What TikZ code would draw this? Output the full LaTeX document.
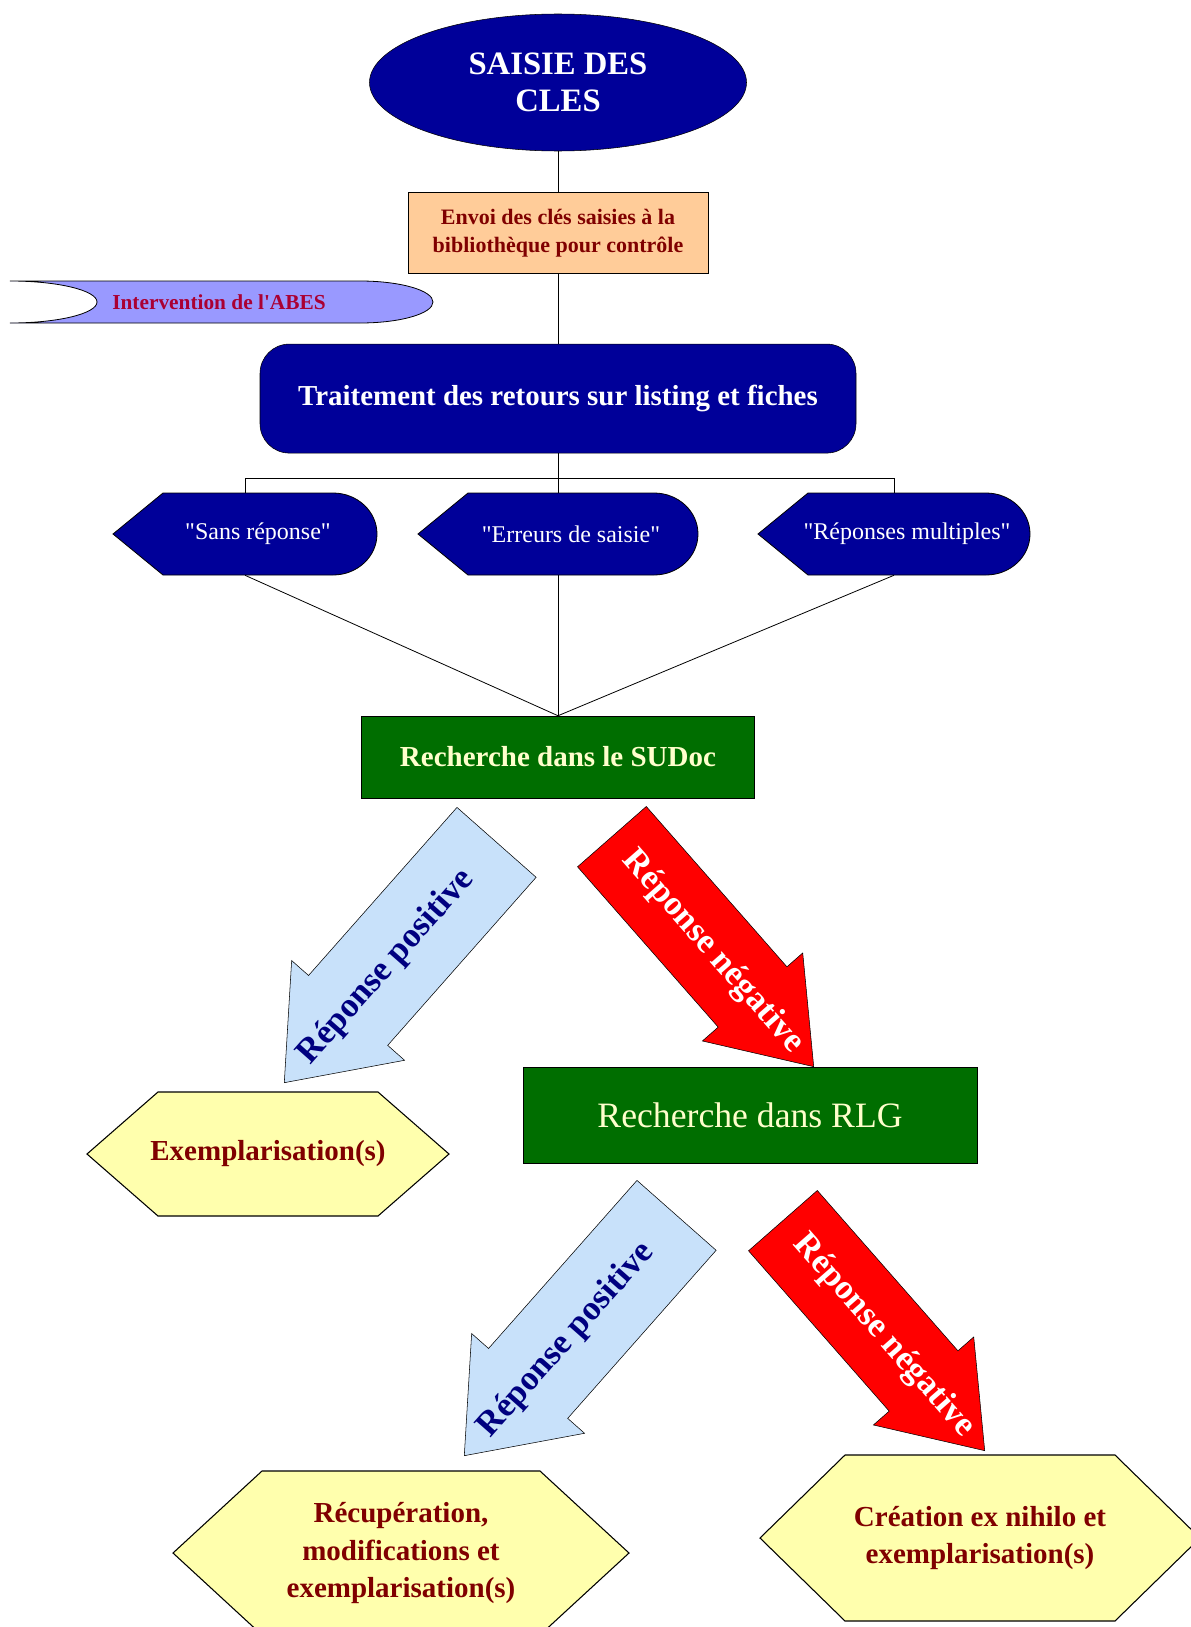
\documentclass[tikz,border=0pt]{standalone}
\usepackage{fontspec}
\setmainfont{Liberation Serif}[Ligatures=TeXOff]
\usetikzlibrary{positioning, shapes.geometric, shapes.arrows}

\definecolor{navyfill}{RGB}{0,0,153}
\definecolor{navytext}{RGB}{0,0,128}
\definecolor{orangefill}{RGB}{255,204,153}
\definecolor{lavender}{RGB}{153,153,255}
\definecolor{greenfill}{RGB}{0,110,0}
\definecolor{creamtext}{RGB}{255,255,204}
\definecolor{hexyellow}{RGB}{255,255,173}
\definecolor{darkredtext}{RGB}{128,0,0}
\definecolor{abestext}{RGB}{170,0,51}
\definecolor{paleblue}{RGB}{200,225,250}

% display shape: pointed on the left, rounded on the right
\newcommand{\displaynode}[4]{% name, centre, half width, text
  \draw[displayfill, shift={#2}] (-#3,0) -- (-#3+50,-41) -- (#3-44,-41)
    .. controls (#3-19.7,-41) and (#3,-22.6) .. (#3,0)
    .. controls (#3,22.6) and (#3-19.7,41) .. (#3-44,41)
    -- (-#3+50,41) -- cycle;
  \node[displaytext, minimum width={#3*1.5pt}] (#1) at #2 {\hspace*{19.5pt}#4};}

% hexagon: name, centre, half width, half height, chamfer, text
\newcommand{\hexnode}[6]{%
  \draw[hexfill, shift={#2}] (-#3,0) -- (-#3+#5,-#4) -- (#3-#5,-#4)
    -- (#3,0) -- (#3-#5,#4) -- (-#3+#5,#4) -- cycle;
  \node[hextext] (#1) at #2 {#6};}

\begin{document}
\begin{tikzpicture}[
    x=0.75pt, y=-0.75pt,
    link/.style={draw, line width=0.6pt},
    oval/.style={ellipse, draw, fill=navyfill, text=white, align=center, inner sep=0pt,
        font=\bfseries\fontsize{24.5}{28}\selectfont, minimum width=282.75pt, minimum height=102.75pt},
    sendbox/.style={rectangle, draw, fill=orangefill, text=darkredtext, align=center,
        font=\bfseries\fontsize{16.5}{21}\selectfont, minimum width=225pt, minimum height=60.75pt},
    bigbox/.style={rectangle, draw, rounded corners=22pt, fill=navyfill, text=white,
        font=\bfseries\fontsize{21.7}{24}\selectfont, minimum width=447pt, minimum height=81.75pt},
    displayfill/.style={draw, fill=navyfill, line width=0.6pt},
    displaytext/.style={rectangle, text=white, inner sep=0pt, minimum height=61.5pt,
        font=\fontsize{18}{18}\selectfont},
    greenbox/.style={rectangle, draw, fill=greenfill, text=creamtext, align=center},
    hexfill/.style={draw, fill=hexyellow, line width=0.8pt},
    hextext/.style={text=darkredtext, align=center, font=\bfseries\fontsize{21.75}{28}\selectfont},
    posarrow/.style={single arrow, draw, fill=paleblue, text=navytext,
        font=\bfseries\fontsize{26}{26}\selectfont, single arrow tip angle=76,
        single arrow head extend=16.9pt, minimum height=240.5pt,
        text height=18pt, text depth=5pt, inner ysep=27.9pt, inner xsep=0pt,
        shape border rotate=180, rotate=48.55, anchor=tip},
    negarrow/.style={single arrow, draw, fill=red, text=white,
        font=\bfseries\fontsize{26}{26}\selectfont, single arrow tip angle=71.5,
        single arrow head extend=15.75pt, minimum height=229.5pt,
        text height=18pt, text depth=5pt, inner ysep=22.6pt, inner xsep=0pt,
        rotate=-48.74, anchor=tip}
]
\useasboundingbox (0,0) rectangle (1190,1627);

% Top column
\node[oval] (saisie) at (558,82.5) {SAISIE DES\\CLES};
\node[sendbox, below=30.75pt of saisie] (envoi) {Envoi des clés saisies à la\\bibliothèque pour contrôle};
\node[bigbox, below=52.5pt of envoi] (traitement) {Traitement des retours sur listing et fiches};

% ABES side note
\draw[draw, fill=lavender, line width=0.6pt] (10,281) -- (360,281)
  .. controls (400.3,281) and (433,290.4) .. (433,302)
  .. controls (433,313.6) and (400.3,323) .. (360,323) -- (10,323)
  .. controls (58,323) and (97,313.6) .. (97,302)
  .. controls (97,290.4) and (58,281) .. cycle;
\node[text=abestext, font=\bfseries\fontsize{16}{16}\selectfont] (abes) at (219,302) {Intervention de l'ABES};

% Returns
\displaynode{sans}{(245,534)}{132}{"Sans réponse"}
\displaynode{erreurs}{(558,534)}{140}{"Erreurs de saisie"}
\displaynode{multiples}{(894,534)}{136}{"Réponses multiples"}

% Searches
\node[greenbox, font=\bfseries\fontsize{21.75}{24}\selectfont, minimum width=294.75pt, minimum height=61.5pt] (sudoc) at (558,757) {Recherche dans le SUDoc};
\node[greenbox, font=\fontsize{26.75}{28}\selectfont, minimum width=340.5pt, minimum height=72pt] (rlg) at (750,1115) {Recherche dans RLG};

% Results
\hexnode{exemp}{(268,1154)}{181}{62}{71}{Exemplarisation(s)}
\hexnode{recup}{(401,1553)}{228}{82}{89}{Récupération,\\modifications et\\exemplarisation(s)}
\hexnode{creation}{(980,1538)}{220}{83}{85}{Création ex nihilo et\\exemplarisation(s)}

% Answers
\node[posarrow] (posA) at (284,1083) {\makebox[0pt]{Réponse positive}\hspace*{60pt}};
\node[negarrow] (negA) at (814,1067) {\hspace*{48pt}\makebox[0pt]{Réponse négative}};
\node[posarrow] (posB) at (464,1456) {\makebox[0pt]{Réponse positive}\hspace*{60pt}};
\node[negarrow] (negB) at (985,1451) {\hspace*{48pt}\makebox[0pt]{Réponse négative}};

% Edges
\draw[link] (saisie) -- (envoi);
\draw[link] (envoi) -- (traitement);
\draw[link] (traitement) -- (erreurs);
\draw[link] (sans.north) -- ++(0,-14) -| (multiples.north);
\foreach \src in {sans, erreurs, multiples}
  \draw[link] (\src.south) -- (sudoc.north);

\end{tikzpicture}
\end{document}
